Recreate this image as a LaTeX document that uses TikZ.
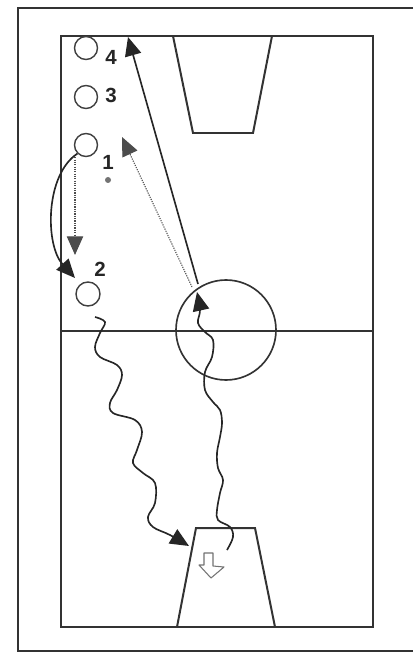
\documentclass[tikz,border=0pt]{standalone}
\usepackage{fontspec}
\setmainfont{Liberation Sans}
\usetikzlibrary{arrows.meta}

\begin{document}
\begin{tikzpicture}[x=0.03cm,y=-0.03cm]%
        \tikzset{%
            court/.style={draw=black!80, line width=1.7pt},
            player/.style={circle, draw=black!75, line width=1.2pt, minimum size=0.69cm, inner sep=0pt},
            number/.style={font=\fontsize{17.5}{17.5}\selectfont\bfseries, text=black!85, inner sep=0pt},
            tip/.style={-{Triangle[length=16pt,width=14pt]}},
            cut/.style={tip, draw=black!85, line width=1.4pt},
            pass/.style={tip, draw=black!70, line width=0.9pt, dash pattern=on 1pt off 1pt},
            dribble/.style={tip, draw=black!85, line width=1.4pt, smooth, tension=0.6},
        }%
        \useasboundingbox[fill=white] (0,0) rectangle (413,653);
        % outer frame
        \draw[draw=black!80, line width=1.4pt] (413,8) -- (18,8) -- (18,651) -- (413,651);
        % court
        \draw[court] (61,36) rectangle (373,627);
        \draw[court] (61,331) -- (373,331);
        \draw[draw=black!80, line width=1.4pt] (226,330) circle[radius=50];
        \draw[court] (173,36) -- (193,133) -- (253,133) -- (272,36);
        \draw[court] (177,627) -- (196,528) -- (255,528) -- (275,627);
        % players
        \node[player] (p4) at (86,48) {};
        \node[player] (p3) at (86,97) {};
        \node[player] (p1) at (86,145) {};
        \node[player, minimum size=0.72cm] (p2) at (88,294) {};
        \node[number] (n4) at (111,57) {4};
        \node[number] (n3) at (111,95) {3};
        \node[number] (n1) at (108,162) {1};
        \node[number] (n2) at (100,269) {2};
        \fill[black!55] (108,180) circle[radius=3];
        % free ends
        \coordinate (drop) at (75,255);
        \coordinate (cutend) at (75,278);
        \coordinate (spot) at (198,284);
        \coordinate (wing) at (128,37);
        \coordinate (elbow) at (122,137);
        \coordinate (dotfrom) at (192,287);
        % movements
        \draw[cut] (p1.225) .. controls (45,175) and (45,245) .. (cutend);
        \draw[pass] (drop |- p1.south) -- (drop);
        \draw[cut] (spot) -- (wing);
        \draw[pass] (dotfrom) -- (elbow);
        \draw[dribble] plot coordinates {(95,317) (105,322) (100,333) (95,347) (100,357) (117,365) (122,375) (117,390) (110,403) (113,413) (135,420) (142,432) (137,450) (133,463) (143,473) (155,483) (155,503) (148,517) (153,527) (170,535) (189,546)};
        \draw[dribble] plot coordinates {(227,550) (233,537) (230,527) (218,520) (217,510) (220,493) (223,480) (218,468) (217,453) (220,437) (222,423) (220,410) (213,402) (205,390) (205,372) (212,357) (213,340) (205,332) (198,323) (200,310) (197,292)};
        % open arrow in the key
        \draw[draw=black!55, line width=0.9pt, line join=round] (204,553) -- (213,553) -- (213,566) -- (224,567) -- (211,578) -- (199,565) -- (204,565) -- cycle;
    \end{tikzpicture}
\end{document}
